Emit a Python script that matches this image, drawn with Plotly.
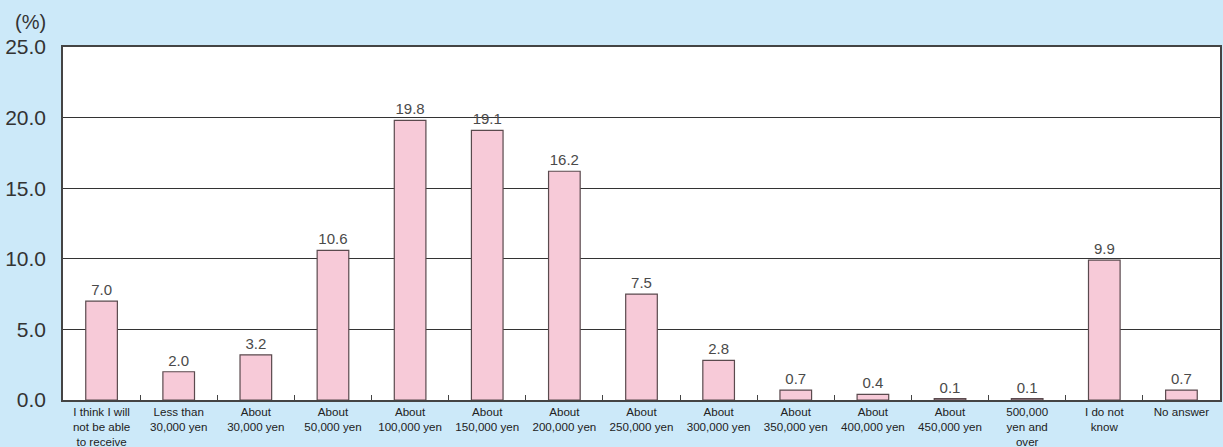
import plotly.graph_objects as go

categories = [
    "I think I will<br>not be able<br>to receive",
    "Less than<br>30,000 yen",
    "About<br>30,000 yen",
    "About<br>50,000 yen",
    "About<br>100,000 yen",
    "About<br>150,000 yen",
    "About<br>200,000 yen",
    "About<br>250,000 yen",
    "About<br>300,000 yen",
    "About<br>350,000 yen",
    "About<br>400,000 yen",
    "About<br>450,000 yen",
    "500,000<br>yen and<br>over",
    "I do not<br>know",
    "No answer",
]
values = [7.0, 2.0, 3.2, 10.6, 19.8, 19.1, 16.2, 7.5, 2.8, 0.7, 0.4, 0.1, 0.1, 9.9, 0.7]
y_ticks = [0, 5, 10, 15, 20, 25]
y_tick_labels = ["0.0", "5.0", "10.0", "15.0", "20.0", "25.0"]

BG = "#cce9f9"
FONT = "Liberation Sans, Arial, sans-serif"

fig = go.Figure(
    go.Bar(
        x=categories,
        y=values,
        width=0.41,
        marker=dict(color="#f7cad8", line=dict(color="#5a4a4e", width=1.2)),
        text=[f"{v:.1f}" for v in values],
        textposition="outside",
        cliponaxis=False,
        textfont=dict(family=FONT, size=15, color="#4a4a4a"),
    )
)

fig.update_layout(
    width=1223,
    height=447,
    margin=dict(l=63, r=3, t=47, b=47, autoexpand=False),
    paper_bgcolor=BG,
    plot_bgcolor="white",
    showlegend=False,
    bargap=0.59,
    font=dict(family=FONT, color="#222222"),
)

fig.update_xaxes(
    type="category",
    tickson="boundaries",
    ticks="inside",
    ticklen=5,
    tickcolor="#444444",
    tickangle=0,
    automargin=False,
    showline=True,
    linecolor="#444444",
    linewidth=1.5,
    mirror=True,
    ticklabelstandoff=0,
    tickfont=dict(family=FONT, size=11.6, color="#222222"),
    showgrid=False,
)

fig.update_yaxes(
    range=[0, 25],
    tickvals=y_ticks,
    ticktext=y_tick_labels,
    showgrid=True,
    gridcolor="#333333",
    gridwidth=1,
    showline=True,
    linecolor="#444444",
    linewidth=1.5,
    mirror=True,
    ticks="",
    automargin=False,
    ticklabelstandoff=11,
    tickfont=dict(family=FONT, size=21, color="#333333"),
    zeroline=False,
)

fig.add_annotation(
    text="(%)",
    xref="paper", yref="paper",
    x=0, xshift=-33, y=1.0, yshift=25,
    xanchor="center", yanchor="middle",
    showarrow=False,
    font=dict(family=FONT, size=20, color="#333333"),
)

fig.write_html("out.html")
